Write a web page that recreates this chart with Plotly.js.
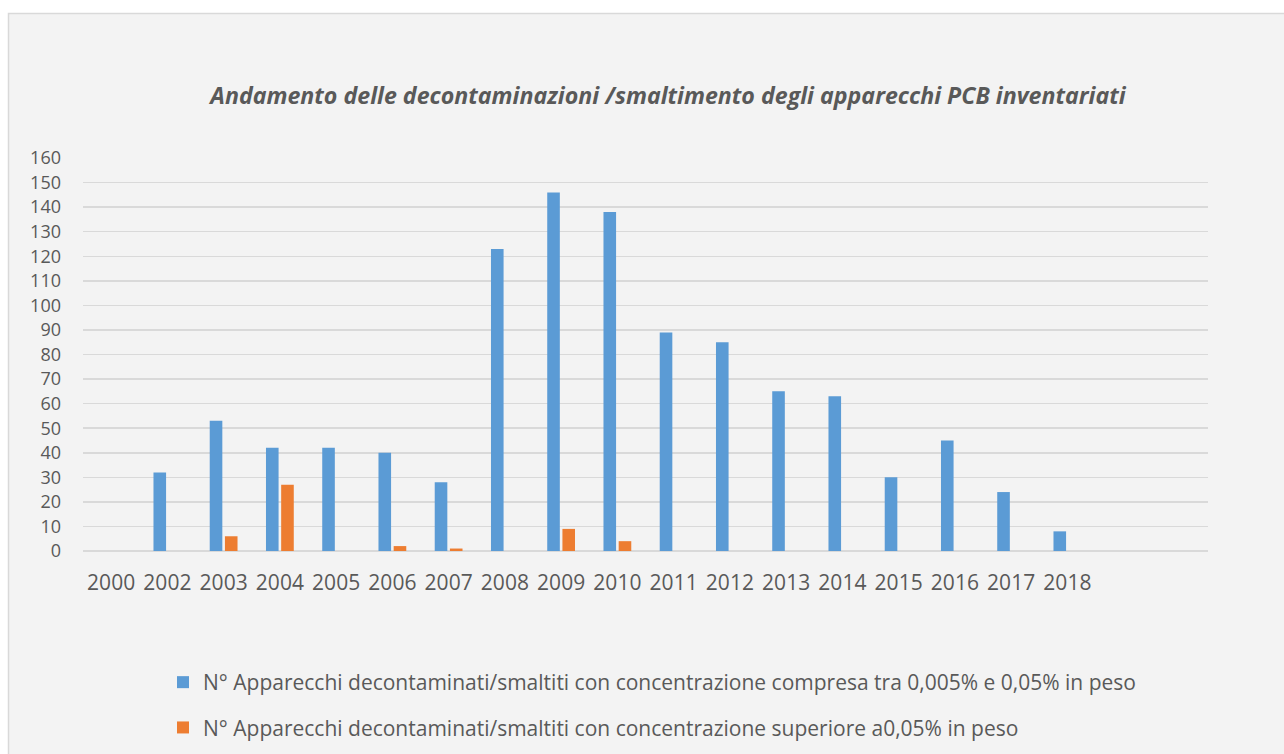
<!DOCTYPE html>
<html>
<head>
<meta charset="utf-8">
<script src="https://cdn.plot.ly/plotly-3.0.1.min.js"></script>
<style>
  html, body { margin: 0; padding: 0; background: #ffffff; }
  #chart { width: 1284px; height: 754px; }
</style>
</head>
<body>
<div id="chart"></div>
<script>
// ---- data ----
const years = ["2000", "2002", "2003", "2004", "2005", "2006", "2007", "2008", "2009",
               "2010", "2011", "2012", "2013", "2014", "2015", "2016", "2017", "2018"];
const seriesLowName = "N° Apparecchi decontaminati/smaltiti con concentrazione compresa tra 0,005% e 0,05% in peso";
const seriesHighName = "N° Apparecchi decontaminati/smaltiti con concentrazione superiore a0,05% in peso";
const seriesLow  = [0, 32, 53, 42, 42, 40, 28, 123, 146, 138, 89, 85, 65, 63, 30, 45, 24, 8];
const seriesHigh = [0, 0, 6, 27, 0, 2, 1, 0, 9, 4, 0, 0, 0, 0, 0, 0, 0, 0];
const chartTitle = "Andamento delle decontaminazioni /smaltimento degli apparecchi PCB inventariati";
const totalSlots = 20; // the category axis has two empty slots after 2018

const textColor = "#595959";
const font = "'Open Sans', 'DejaVu Sans', sans-serif";

const traces = [
  { type: "bar", x: years, y: seriesLow, name: seriesLowName, legendgroup: "a",
    marker: { color: "#5b9bd5" }, hoverinfo: "x+y" },
  { type: "bar", x: years, y: seriesHigh, name: seriesHighName, legendgroup: "b",
    marker: { color: "#ed7d31" }, hoverinfo: "x+y" }
];

const layout = {
  width: 1284, height: 754,
  paper_bgcolor: "#ffffff",
  plot_bgcolor: "rgba(0,0,0,0)",
  margin: { l: 83, r: 76, t: 158, b: 203, pad: 0, autoexpand: false },
  barmode: "group",
  bargap: 0.46,
  bargroupgap: 0.17,
  font: { family: font, color: textColor, size: 20 },
  title: {
    text: "<b><i>" + chartTitle + "</i></b>",
    font: { family: font, size: 23.2, color: textColor },
    xref: "container", yref: "container",
    x: 668 / 1284, xanchor: "center",
    y: 1 - 96 / 754, yanchor: "middle"
  },
  shapes: [
    { type: "rect", xref: "paper", yref: "paper", layer: "below",
      x0: (8.5 - 83) / 1125, x1: (1300 - 83) / 1125,
      y0: (203 - 800) / 393, y1: (754 - 13.5 - 203) / 393,
      fillcolor: "#f3f3f3", line: { color: "#d9d9d9", width: 1.5 } }
  ],
  xaxis: {
    type: "category",
    range: [-0.5, totalSlots - 0.5],
    showgrid: false, zeroline: false, showline: false,
    ticks: "", ticklabelstandoff: 17, tickangle: 0,
    tickfont: { family: font, size: 21, color: textColor },
    fixedrange: true
  },
  yaxis: {
    range: [0, 160], dtick: 10, tick0: 0,
    showgrid: true, gridcolor: "#d9d9d9", gridwidth: 1.5,
    zeroline: true, zerolinecolor: "#d9d9d9", zerolinewidth: 1.5,
    showline: false, ticks: "", ticklabelstandoff: 21,
    tickfont: { family: font, size: 18, color: textColor },
    fixedrange: true
  },
  showlegend: true,
  legend: {
    orientation: "v",
    xref: "container", yref: "container",
    x: 163 / 1284, xanchor: "left",
    y: 1 - 662 / 754, yanchor: "top",
    bgcolor: "rgba(0,0,0,0)",
    font: { family: font, size: 21, color: textColor },
    tracegroupgap: 15,
    traceorder: "grouped"
  }
};

Plotly.newPlot("chart", traces, layout, { displayModeBar: false, staticPlot: true });
</script>
</body>
</html>
